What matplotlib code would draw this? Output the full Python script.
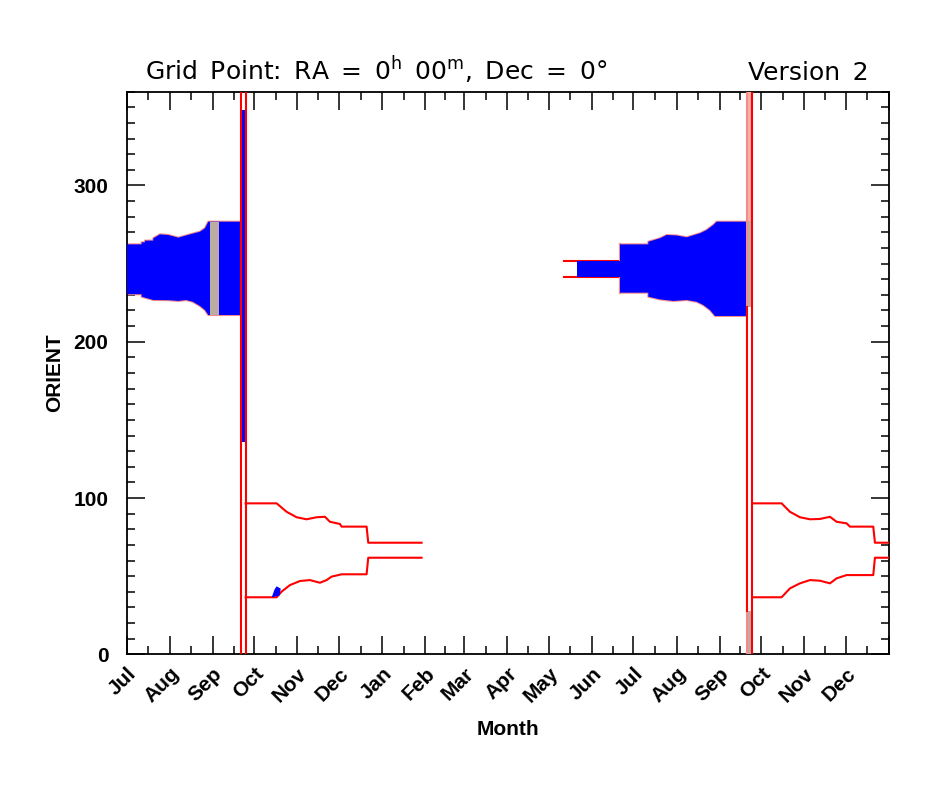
import numpy as np
import matplotlib
matplotlib.use('Agg')
import matplotlib.pyplot as plt
from matplotlib.ticker import FixedLocator, MultipleLocator

# ---- axis: days since 1 July of the first year ----
month_starts = [0, 31, 62, 92, 123, 153, 184, 215, 243, 274, 304, 335,
                365, 396, 427, 457, 488, 518, 549]
month_labels = ['Jul', 'Aug', 'Sep', 'Oct', 'Nov', 'Dec', 'Jan', 'Feb', 'Mar',
                'Apr', 'May', 'Jun', 'Jul', 'Aug', 'Sep', 'Oct', 'Nov', 'Dec', '']

# ---- year 1, Jul-Sep window ----
s1_up_d = [0, 10.8, 10.8, 13.2, 13.2, 19.2, 19.2, 24, 30, 37.2, 45.6, 52.8, 56.4, 58.8, 82.3]
s1_up_v = [262.3, 262.3, 263.6, 263.6, 264.7, 264.7, 266.2, 268.7, 268.3, 266.6, 268.7, 270.4, 272.6, 276.8, 276.8]
s1_lo_d = [0, 10.8, 10.8, 19.2, 30, 37.2, 42.8, 47.6, 52.8, 56.4, 58.8, 82.3]
s1_lo_v = [230.4, 230.4, 228.8, 226.7, 226.6, 226.1, 226.7, 225.6, 222.9, 220.3, 217.1, 217.1]
gray1_d = [60.0, 66.7]
gray1_lo = 217.1
gray1_hi = 276.8

# year 1 wrap column (double red line)
col1_d = [82.3, 85.7]
col1_blue = [136.0, 348.0]

# ---- year 1, Oct-Jan window ----
a1_up_d = [85.7, 108, 115.2, 122.4, 129.6, 136.8, 142.8, 146.4, 153.6, 154.8, 172.8, 174, 212.4]
a1_up_v = [96.6, 96.6, 91.2, 87.7, 86.4, 87.7, 88.0, 84.8, 83.4, 81.7, 81.7, 71.4, 71.4]
a1_lo_d = [85.7, 108, 111.6, 117.6, 124.8, 132, 139.2, 144, 147.6, 154.8, 172.8, 174, 212.4]
a1_lo_v = [36.5, 36.5, 40.1, 44.3, 46.9, 47.5, 45.8, 47.5, 49.7, 51.2, 51.2, 61.8, 61.8]
blip_d = [104.5, 106.5, 108.0, 111.0, 110.0]
blip_v = [36.5, 41.5, 43.5, 42.0, 37.5]

# ---- year 2, Jun window ----
jun_red_d = [315, 355.3]
jun_blue_d = [324.1, 355.3]
jun_up = 251.7
jun_lo = 241.6

# ---- year 2, Jul-Sep window ----
s2_up_d = [355.3, 375.7, 375.7, 384.1, 388.9, 396, 403.3, 412.9, 417.7, 422.5, 424.9, 446.6]
s2_up_v = [262.3, 262.3, 264.0, 266.2, 268.3, 268.0, 266.8, 269.4, 271.5, 274.7, 276.8, 276.8]
s2_lo_d = [355.3, 375.7, 375.7, 384.1, 393.7, 403.3, 410.5, 415.3, 420.1, 423.7, 446.6]
s2_lo_v = [231.4, 231.4, 228.8, 227.1, 226.1, 226.7, 225.6, 223.5, 220.3, 216.5, 216.5]

# year 2 wrap column
col2_d = [446.6, 450.7]
col2_salmon = [277.0, 360.0]
col2_gray_hi = [222.0, 277.0]
col2_gray_lo = [0.0, 28.0]

# ---- year 2, Oct-Dec window ----
a2_up_d = [450.7, 471.7, 477.7, 484.9, 492.1, 499.3, 506.5, 511.3, 518.5, 520.9, 537.7, 538.9, 549]
a2_up_v = [96.6, 96.6, 91.2, 87.7, 86.4, 86.6, 88.0, 84.8, 83.8, 81.7, 81.7, 71.4, 71.4]
a2_lo_d = [450.7, 471.7, 477.7, 484.9, 492.1, 499.3, 506.5, 511.3, 518.5, 537.7, 538.9, 549]
a2_lo_v = [36.5, 36.5, 42.2, 45.4, 47.5, 47.1, 45.4, 48.6, 50.7, 50.7, 61.8, 61.8]

RED = '#ff0000'
PINK = '#f58a8a'
BLUE = '#0000ff'
GRAY = '#bcaca4'

plt.rcParams['font.family'] = ['Liberation Sans', 'DejaVu Sans']
plt.rcParams['mathtext.fontset'] = 'dejavusans'

fig = plt.figure(figsize=(9.53, 7.91), dpi=100)
ax = fig.add_axes([0.1329, 0.1728, 0.7999, 0.7113])

LW = 1.5
# year 1 summer
ax.plot(s1_up_d, s1_up_v, color=PINK, lw=LW, zorder=2)
ax.plot(s1_lo_d, s1_lo_v, color=PINK, lw=LW, zorder=2)
ax.fill(np.r_[s1_up_d, s1_lo_d[::-1]], np.r_[s1_up_v, s1_lo_v[::-1]],
        color=BLUE, lw=0, zorder=3)
ax.fill_between(gray1_d, gray1_lo, gray1_hi, color=GRAY, lw=0, zorder=4)
ax.plot([s1_up_d[-1]] * 2, [s1_lo_v[-1], s1_up_v[-1]], color=BLUE, lw=1, zorder=3)

# year 1 column
ax.fill_between(col1_d, col1_blue[0], col1_blue[1], color=BLUE, lw=0, zorder=3)
for d in col1_d:
    ax.plot([d, d], [0, 360], color=RED, lw=LW, zorder=5)

# year 1 autumn
ax.plot(a1_up_d, a1_up_v, color=RED, lw=LW, zorder=5)
ax.plot(a1_lo_d, a1_lo_v, color=RED, lw=LW, zorder=5)
ax.fill(blip_d, blip_v, color=BLUE, lw=0, zorder=6)

# year 2 June
ax.plot(jun_red_d, [jun_up] * 2, color=RED, lw=LW, zorder=2)
ax.plot(jun_red_d, [jun_lo] * 2, color=RED, lw=LW, zorder=2)
ax.fill_between(jun_blue_d, jun_lo, jun_up, color=BLUE, lw=0, zorder=3)
ax.plot([jun_red_d[-1]] * 2, [s2_up_v[0], jun_up], color=PINK, lw=LW, zorder=2)
ax.plot([jun_red_d[-1]] * 2, [jun_lo, s2_lo_v[0]], color=PINK, lw=LW, zorder=2)

# year 2 summer
ax.plot(s2_up_d, s2_up_v, color=PINK, lw=LW, zorder=2)
ax.plot(s2_lo_d, s2_lo_v, color=PINK, lw=LW, zorder=2)
ax.fill(np.r_[s2_up_d, s2_lo_d[::-1]], np.r_[s2_up_v, s2_lo_v[::-1]],
        color=BLUE, lw=0, zorder=3)

# year 2 column
ax.fill_between(col2_d, col2_salmon[0], col2_salmon[1], color='#f7b0aa', lw=0, zorder=3)
ax.fill_between(col2_d, col2_gray_hi[0], col2_gray_hi[1], color=GRAY, lw=0, zorder=3)
ax.fill_between(col2_d, col2_gray_lo[0], col2_gray_lo[1], color=GRAY, lw=0, zorder=3)
ax.plot([col2_d[0]] * 2, [0, 360], color=PINK, lw=LW, zorder=5)
ax.plot([col2_d[1]] * 2, [0, 360], color=RED, lw=LW, zorder=5)
ax.plot([col2_d[0]] * 2, [col2_gray_lo[1], col2_gray_hi[0]], color=RED, lw=LW, zorder=5)

# year 2 autumn
ax.plot(a2_up_d, a2_up_v, color=RED, lw=LW, zorder=5)
ax.plot(a2_lo_d, a2_lo_v, color=RED, lw=LW, zorder=5)

ax.set_xlim(0, 549)
ax.set_ylim(0, 360)

# ticks
ax.xaxis.set_major_locator(FixedLocator(month_starts))
mids = [(a + b) / 2 for a, b in zip(month_starts[:-1], month_starts[1:])]
ax.xaxis.set_minor_locator(FixedLocator(mids))
ax.set_xticklabels(month_labels, rotation=45, ha='right', va='top',
                   rotation_mode='anchor', fontsize=15, fontweight='bold')
ax.yaxis.set_major_locator(MultipleLocator(100))
ax.yaxis.set_minor_locator(MultipleLocator(10))
ax.tick_params(axis='y', labelsize=15)
for lab in ax.get_yticklabels():
    lab.set_fontweight('bold')
ax.tick_params(which='both', direction='in', top=True, right=True, color='black', width=1.1)
ax.tick_params(which='major', length=13)
ax.tick_params(which='minor', length=6)
ax.tick_params(axis='x', which='major', pad=7)
ax.tick_params(axis='y', which='major', pad=13)
for s in ax.spines.values():
    s.set_linewidth(1.3)

ax.set_ylabel('ORIENT', fontsize=15, fontweight='bold', labelpad=7)
ax.set_xlabel('Month', fontsize=15, fontweight='bold', labelpad=10)

sp = '\u2002'
title_left = ('Grid' + sp + 'Point:' + sp + 'RA' + sp + '=' + sp + '0$^{\\mathrm{h}}$' + sp
              + '00$^{\\mathrm{m}}$,' + sp + 'Dec' + sp + '=' + sp + '0°')
fig.text(0.152, 0.899, title_left, fontsize=18, fontfamily='DejaVu Sans',
         fontweight='normal', ha='left', va='baseline')
fig.text(0.911, 0.899, 'Version' + sp + '2', fontsize=18, fontfamily='DejaVu Sans',
         fontweight='normal', ha='right', va='baseline')

fig.savefig('out.png', dpi=100)
